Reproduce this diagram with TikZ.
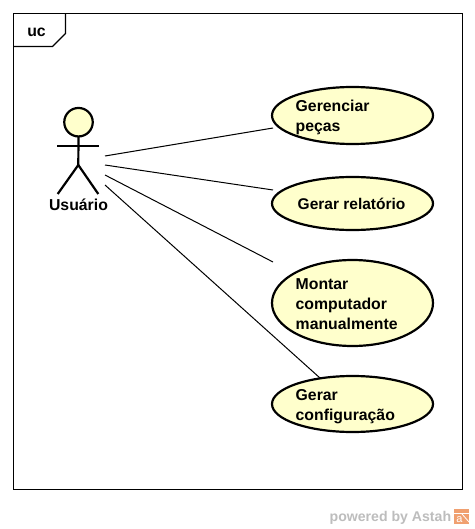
\documentclass[tikz,border=0pt]{standalone}
\usepackage{fontspec}
\setmainfont{Liberation Sans}
\usetikzlibrary{shapes.geometric}
\definecolor{ucfill}{HTML}{FFFFCC}
\definecolor{wmgray}{HTML}{BDBDBD}
\definecolor{logoorange}{HTML}{F0A070}
\tikzset{
  x=1pt,y=-1pt,
  frameline/.style={draw=black,line width=1.2pt},
  ucshape/.style={ellipse,draw=black,fill=ucfill,line width=2.2pt,inner sep=0pt,outer sep=0pt},
  uctext/.style={align=left,inner sep=0pt,anchor=base west,font=\fontsize{15.8}{20}\selectfont\bfseries},
  actorline/.style={draw=black,line width=2.2pt},
  assoc/.style={draw=black,line width=1pt},
}
\begin{document}
\begin{tikzpicture}
\useasboundingbox (0,0) rectangle (474,529);
\fill[white] (0,0) rectangle (474,529);
\draw[frameline] (13.5,13.5) rectangle (462.5,489.5);
\draw[frameline] (13.5,46.5) -- (52.5,46.5) -- (65.5,33.5) -- (65.5,13.5);
\node[inner sep=0pt,anchor=base,font=\fontsize{15.8}{18}\selectfont\bfseries] (ucl) at (36.5,36.5) {uc};
% actor
\node[circle,draw=black,fill=ucfill,line width=2.2pt,minimum size=28.5pt,inner sep=0pt,outer sep=0pt] (head) at (78.5,122.2) {};
\coordinate (arml) at (57.3,146);
\coordinate (armr) at (99,146);
\coordinate (hip) at (78.3,165);
\coordinate (footl) at (57.7,194);
\coordinate (footr) at (98.3,194);
\draw[actorline] (head.south) -- (hip);
\draw[actorline] (arml) -- (armr);
\draw[actorline] (footl) -- (hip) -- (footr);
\node[inner sep=0pt,anchor=base,font=\fontsize{15.8}{18}\selectfont\bfseries] (actorl) at (78.5,210.5) {Usuário};
% use cases
\node[ucshape,minimum width=161pt,minimum height=57pt] (uc1) at (352.5,115.5) {};
\node[ucshape,minimum width=161pt,minimum height=53pt] (uc2) at (352.5,203.5) {};
\node[ucshape,minimum width=161pt,minimum height=86pt] (uc3) at (352.5,303) {};
\node[ucshape,minimum width=161pt,minimum height=56pt] (uc4) at (352.5,404) {};
\node[uctext] (t1) at (295.5,131.5) {Gerenciar\\peças};
\node[uctext,font=\fontsize{15.5}{20}\selectfont\bfseries] (t2) at (297.5,209) {Gerar relatório};
\node[uctext] (t3) at (295.5,329) {Montar\\computador\\manualmente};
\node[uctext] (t4) at (295.5,420) {Gerar\\configuração};
% connectors
\coordinate (a1) at (105,156);
\coordinate (a2) at (105,165);
\coordinate (a3) at (105,175);
\coordinate (a4) at (105,185);
\coordinate (e1) at (273,128);
\coordinate (e2) at (273,190);
\coordinate (e3) at (273,262);
\coordinate (e4) at (320,378);
\draw[assoc] (a1) -- (e1);
\draw[assoc] (a2) -- (e2);
\draw[assoc] (a3) -- (e3);
\draw[assoc] (a4) -- (e4);
% watermark
\node[inner sep=0pt,anchor=base west,text=wmgray,font=\fontsize{14.1}{16}\selectfont\bfseries] (wm) at (329.5,521) {powered by Astah};
\fill[logoorange] (454,509) rectangle (469,524);
\draw[white,line width=0.8pt] (454,513.5) -- (469,513.5);
\draw[white,line width=0.8pt] (462,514) -- (469,522);
\node[inner sep=0pt,anchor=base,text=white,font=\fontsize{11}{12}\selectfont] (wma) at (459.5,522.5) {a};
\end{tikzpicture}
\end{document}
